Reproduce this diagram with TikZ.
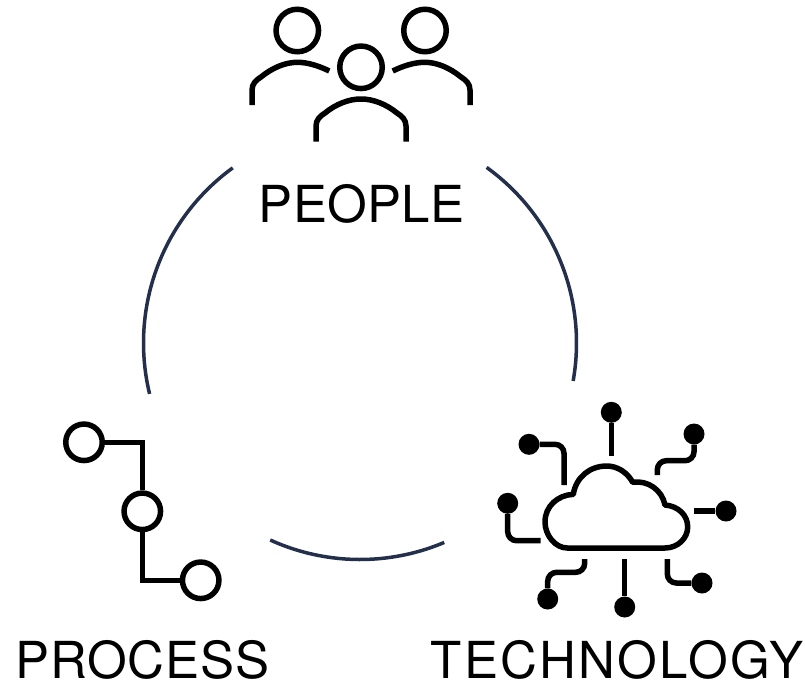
\documentclass[tikz,border=0pt]{standalone}
\usepackage{fontspec}
\setmainfont{TeX Gyre Heros}
\definecolor{ringnavy}{HTML}{232F4B}
\tikzset{
  ring/.style={draw=ringnavy,line width=3.5pt},
  icon/.style={draw=black,line width=5.5pt,line join=round},
  trace/.style={draw=black,line width=5.5pt,rounded corners=9pt},
  hollow/.style={circle,draw=black,fill=white,line width=5.5pt,minimum size=36.5pt,inner sep=0pt},
  head/.style={circle,draw=black,fill=white,line width=5.5pt,minimum size=42.5pt,inner sep=0pt},
  dot/.style={circle,fill=black,minimum size=21pt,inner sep=0pt},
  caption/.style={anchor=base,text=black,inner sep=0pt,font=\fontsize{51}{60}\selectfont}
}
\begin{document}
\begin{tikzpicture}[x=1pt,y=-1pt]
\useasboundingbox (0,0) rectangle (805,683);
% ring
\draw[ring] plot[domain=54.2:-10.1,samples=60] ({360+216.5*cos(\x)},{343-216.5*sin(\x)});
\draw[ring] plot[domain=126:193.6,samples=60] ({360+216.5*cos(\x)},{343-216.5*sin(\x)});
\draw[ring] plot[domain=245.5:292.9,samples=40] ({360+216.5*cos(\x)},{343-216.5*sin(\x)});
% people
\node[head] (h1) at (297.3,30.5) {};
\node[head] (h2) at (425,30.5) {};
\node[head] (h3) at (361,67.3) {};
\draw[icon] (252,105) -- (252,90) .. controls (252,84) and (256,80) .. (261,77) .. controls (272,68) and (285,62.3) .. (297.3,62.3) .. controls (308,62.3) and (319,66) .. (329.3,71);
\draw[icon] (470,105) -- (470,90) .. controls (470,84) and (466,80) .. (461,77) .. controls (450,68) and (437,62.3) .. (425,62.3) .. controls (414,62.3) and (403,66) .. (392.7,71);
\draw[icon] (316,141.7) -- (316,126) .. controls (316,120) and (320,116) .. (325,113) .. controls (336,104) and (349,99) .. (361,99) .. controls (373,99) and (386,104) .. (397,113) .. controls (402,116) and (406,120) .. (406,126) -- (406,141.7);
\node[caption] (people) at (361.5,222) {\addfontfeature{LetterSpace=0.5}PEOPLE};
% process
\node[hollow] (p1) at (84,442.3) {};
\node[hollow] (p2) at (142.3,511.3) {};
\node[hollow] (p3) at (200.7,580.3) {};
\draw[icon,line join=miter] (p1) -- (p1 -| p2) -- (p2);
\draw[icon,line join=miter] (p2) -- (p2 |- p3) -- (p3);
\node[caption] (process) at (142.5,678) {\addfontfeature{LetterSpace=1.8}PROCESS};
% cloud
\draw[icon] (567.3,548) .. controls (555,548) and (545,535) .. (545,522) .. controls (545,506) and (558,495) .. (573.3,494.3) .. controls (576,477) and (590,466) .. (606.7,466) .. controls (617,466) and (627,472) .. (632.7,482.3) .. controls (648,480) and (662,490) .. (665,505) .. controls (678,506) and (687.7,515) .. (687.7,527) .. controls (687.7,538) and (678,548) .. (665,548) -- cycle;
% traces
\node[dot] (d1) at (611.3,412.3) {};
\node[dot] (d2) at (694,434) {};
\node[dot] (d3) at (726,511) {};
\node[dot] (d4) at (702,583) {};
\node[dot] (d5) at (624.7,607) {};
\node[dot] (d6) at (547.7,599) {};
\node[dot] (d7) at (507.7,503.3) {};
\node[dot] (d8) at (529,444.3) {};
\coordinate (e1) at (611.3,456);
\coordinate (e2) at (657.3,475);
\coordinate (e3) at (694,511);
\coordinate (e4) at (667.3,559);
\coordinate (e5) at (624.7,559);
\coordinate (e6) at (584.7,559);
\coordinate (e7) at (540.7,540.7);
\coordinate (e8) at (564,485);
\draw[trace] (d1) -- (e1);
\draw[trace] (d2) -- (694,460.7) -- (657.3,460.7) -- (e2);
\draw[trace] (d3) -- (e3);
\draw[trace] (d4) -- (667.3,583) -- (e4);
\draw[trace] (d5) -- (e5);
\draw[trace] (d6) -- (547.7,572.3) -- (584.7,572.3) -- (e6);
\draw[trace] (d7) -- (507.7,540.7) -- (e7);
\draw[trace] (d8) -- (564,444.3) -- (e8);
\node[caption] (technology) at (617,678) {\addfontfeature{LetterSpace=4.5}TECHNOLOGY};
\end{tikzpicture}
\end{document}
